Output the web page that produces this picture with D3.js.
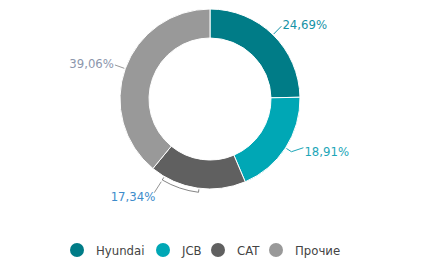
<!DOCTYPE html>
<html>
<head>
<meta charset="utf-8">
<script src="https://cdn.jsdelivr.net/npm/d3@7"></script>
<style>
  body { margin: 0; background: #fff; }
  text { font-family: "Liberation Sans Narrow", "DejaVu Sans Condensed", sans-serif; }
</style>
</head>
<body>
<svg id="chart" width="428" height="264"></svg>
<script>
var categories = ['Hyundai', 'JCB', 'CAT', 'Прочие'],
    values = [24.69, 18.91, 17.34, 39.06],
    labels = ['24,69%', '18,91%', '17,34%', '39,06%'],
    colors = ['#007c87', '#00a7b5', '#606060', '#999999'],
    label_colors = ['#1592a6', '#1ca6b8', '#3d8ccb', '#8c96ac'];

var svg = d3.select('#chart'),
    cx = 210,
    cy = 99,
    outer_r = 90,
    inner_r = 61,
    font_size = 13;

var pie = d3.pie().sort(null).value(function(d){ return d; }),
    arcs = pie(values),
    arc = d3.arc().innerRadius(inner_r).outerRadius(outer_r);

var g = svg.append('g').attr('transform', 'translate(' + cx + ',' + cy + ')');

g.selectAll('path.slice')
 .data(arcs)
 .enter()
 .append('path')
 .attr('class', 'slice')
 .attr('d', arc)
 .attr('fill', function(d, i){ return colors[i]; })
 .attr('stroke', '#fff')
 .attr('stroke-width', 1);

function pt(a, r){
  return [r * Math.sin(a), -r * Math.cos(a)];
}
function mid(d){ return (d.startAngle + d.endAngle) / 2; }

// Hyundai label
var a0 = mid(arcs[0]), s0 = pt(a0, 91), e0 = pt(a0, 102);
g.append('path').attr('d', 'M' + s0 + 'L' + e0).attr('stroke', label_colors[0]).attr('fill', 'none');
g.append('text').text(labels[0]).attr('x', e0[0] + 1).attr('y', e0[1] + 3)
 .attr('font-size', font_size).attr('fill', label_colors[0]);

// JCB label
var a1 = mid(arcs[1]), s1 = pt(a1, 91), e1 = pt(a1, 97);
g.append('path').attr('d', 'M' + s1 + 'L' + e1 + 'L' + [e1[0] + 12, e1[1] - 4])
 .attr('stroke', label_colors[1]).attr('fill', 'none');
g.append('text').text(labels[1]).attr('x', e1[0] + 13).attr('y', e1[1] + 4)
 .attr('font-size', font_size).attr('fill', label_colors[1]);

// CAT label with bracket along the arc
var a2s = mid(arcs[2]) - 0.02, a2e = a2s + 0.41;
var bs = pt(a2s, 94), be = pt(a2e, 94), bsi = pt(a2s, 91), bei = pt(a2e, 91);
g.append('path').attr('d', 'M' + bsi + 'L' + bs + 'A94,94 0 0,1 ' + be + 'L' + bei)
 .attr('stroke', '#666').attr('fill', 'none').attr('stroke-width', 0.8);
var bo = pt(a2e, 96);
g.append('path').attr('d', 'M' + bo + 'L' + [bo[0] - 7, bo[1] + 11])
 .attr('stroke', '#777').attr('fill', 'none').attr('stroke-width', 0.8);
g.append('text').text(labels[2]).attr('x', bo[0] - 6).attr('y', bo[1] + 19)
 .attr('text-anchor', 'end').attr('font-size', font_size).attr('fill', label_colors[2]);

// Прочие label
var a3 = mid(arcs[3]), s3 = pt(a3, 91), e3 = pt(a3, 101);
g.append('path').attr('d', 'M' + s3 + 'L' + e3).attr('stroke', '#999').attr('fill', 'none');
g.append('text').text(labels[3]).attr('x', e3[0] - 1).attr('y', e3[1] + 3)
 .attr('text-anchor', 'end').attr('font-size', font_size).attr('fill', label_colors[3]);

// legend
var legend_x = [77, 163, 218, 276];
var legend = svg.append('g').attr('transform', 'translate(0,250)');
var item = legend.selectAll('g.item')
 .data(categories)
 .enter()
 .append('g')
 .attr('class', 'item')
 .attr('transform', function(d, i){ return 'translate(' + legend_x[i] + ',0)'; });
item.append('circle').attr('r', 7).attr('fill', function(d, i){ return colors[i]; });
item.append('text').text(function(d){ return d; })
 .attr('x', 19).attr('y', 5)
 .attr('font-size', font_size).attr('fill', '#444');
</script>
</body>
</html>
